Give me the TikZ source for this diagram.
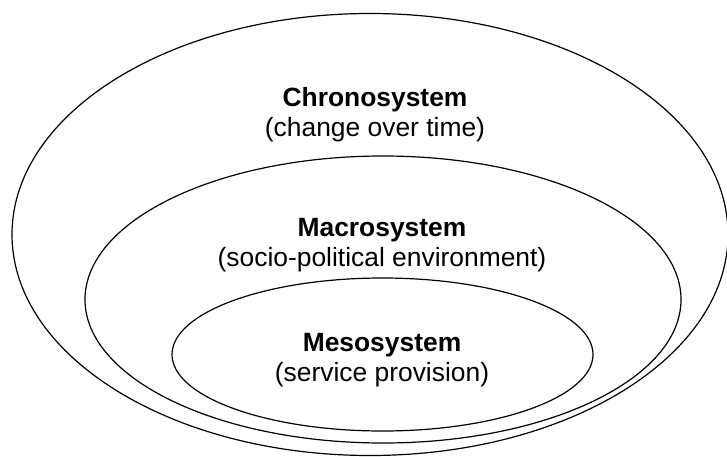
\documentclass[tikz,border=0pt]{standalone}
\usepackage{fontspec}
\setmainfont{Liberation Sans}
\usetikzlibrary{shapes.geometric}
\begin{document}
\begin{tikzpicture}[x=1pt,y=1pt,
  ring/.style={draw=black, line width=1.2pt, ellipse, inner sep=0pt, fill=none},
  head/.style={font=\fontsize{26.4}{30}\selectfont\bfseries, anchor=base, inner sep=0pt},
  sub/.style={font=\fontsize{26.4}{30}\selectfont, anchor=base, inner sep=0pt}]
\useasboundingbox (0,0) rectangle (727,-457);
\node[ring, minimum width=716pt, minimum height=442pt] (chrono) at (370,-234.5) {};
\node[ring, minimum width=596pt, minimum height=287pt] (macro) at (383,-299.5) {};
\node[ring, minimum width=421pt, minimum height=153pt] (meso) at (382.5,-354.5) {};
\node[head] (t1) at (375,-106.5) {Chronosystem};
\node[sub] (s1) at (375,-137) {(change over time)};
\node[head] (t2) at (382,-236.5) {Macrosystem};
\node[sub] (s2) at (382,-266.5) {(socio-political environment)};
\node[head] (t3) at (382,-351) {Mesosystem};
\node[sub] (s3) at (382,-381) {(service provision)};
\end{tikzpicture}
\end{document}
